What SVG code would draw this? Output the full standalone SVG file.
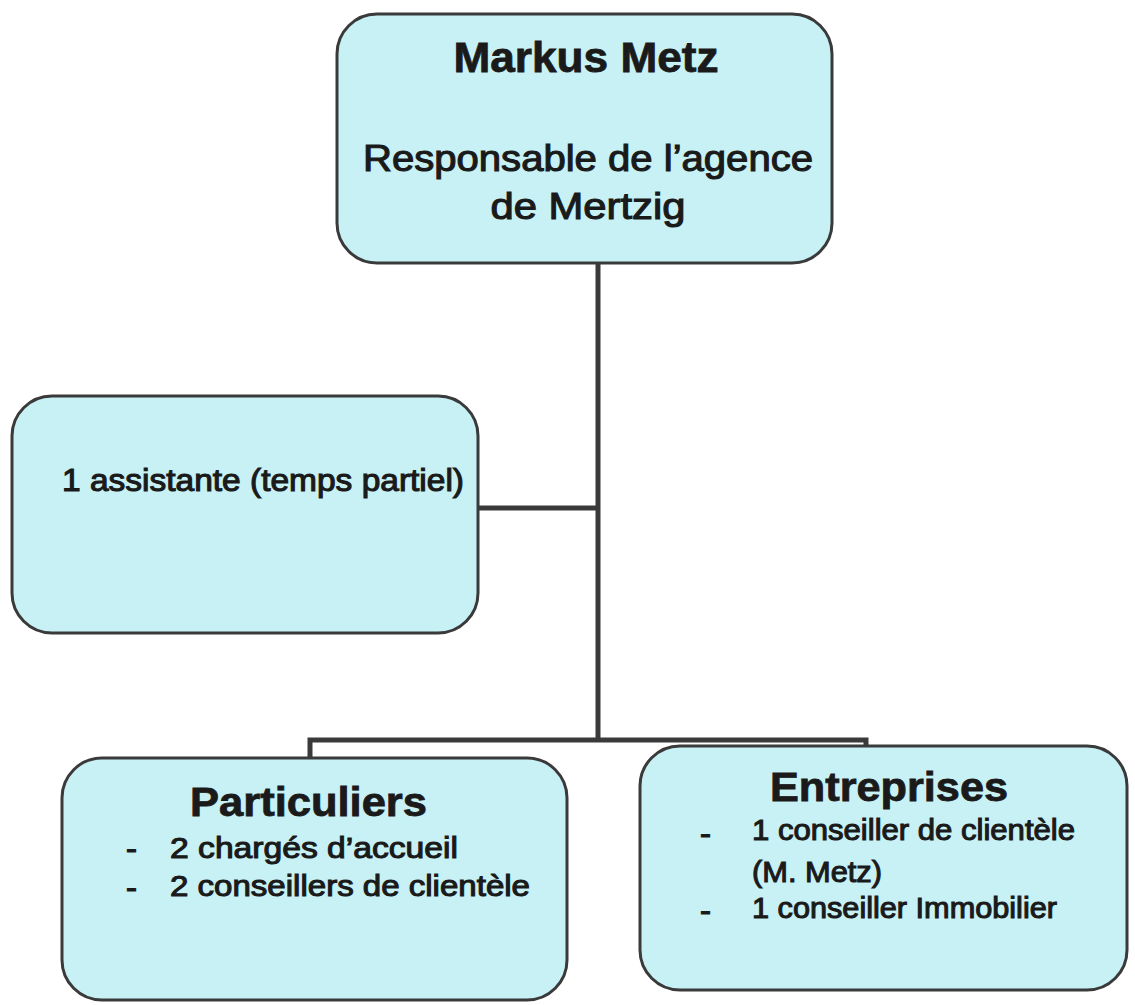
<svg xmlns="http://www.w3.org/2000/svg" width="1135" height="1005" viewBox="0 0 1135 1005">
<style>
.box{fill:#c7f1f5;stroke:#3a3a3a;stroke-width:3}
.conn{fill:none;stroke:#3a3a3a;stroke-width:5;stroke-linejoin:miter}
text{font-family:"Liberation Sans",Arial,sans-serif;fill:#1a1a1a}
.t{font-weight:bold;stroke:#1a1a1a;stroke-width:0.8}
.b{stroke:#1a1a1a;stroke-width:1.1}
</style>
<rect width="1135" height="1005" fill="#ffffff"/>
<g id="connectors">
<path class="conn" d="M598 263 V740"/>
<path class="conn" d="M478 508 H598"/>
<path class="conn" d="M310 760 V740 H866 V746"/>
</g>
<g id="node-markus">
<rect class="box" x="337" y="14" width="495" height="249" rx="40"/>
<text class="t" x="586" y="72" font-size="42" text-anchor="middle" textLength="265" lengthAdjust="spacingAndGlyphs" fill="#3c3c3c" stroke="#3c3c3c">Markus Metz</text>
<text class="b" x="588" y="171" font-size="36" text-anchor="middle" textLength="450" lengthAdjust="spacingAndGlyphs">Responsable de l’agence</text>
<text class="b" x="588" y="219" font-size="36" text-anchor="middle" textLength="195" lengthAdjust="spacingAndGlyphs">de Mertzig</text>
</g>
<g id="node-assistante">
<rect class="box" x="12" y="396" width="466" height="237" rx="40"/>
<text class="b" x="62" y="491" font-size="31" textLength="402" lengthAdjust="spacingAndGlyphs">1 assistante (temps partiel)</text>
</g>
<g id="node-particuliers">
<rect class="box" x="62" y="758" width="505" height="242" rx="40"/>
<text class="t" x="190" y="816" font-size="40" textLength="237" lengthAdjust="spacingAndGlyphs">Particuliers</text>
<text class="b" x="126" y="859" font-size="30" textLength="11" lengthAdjust="spacingAndGlyphs">-</text>
<text class="b" x="170" y="858" font-size="30" textLength="288" lengthAdjust="spacingAndGlyphs">2 chargés d’accueil</text>
<text class="b" x="126" y="898" font-size="30" textLength="11" lengthAdjust="spacingAndGlyphs">-</text>
<text class="b" x="170" y="896" font-size="30" textLength="360" lengthAdjust="spacingAndGlyphs">2 conseillers de clientèle</text>
</g>
<g id="node-entreprises">
<rect class="box" x="640" y="746" width="487" height="244" rx="40"/>
<text class="t" x="770" y="801" font-size="40" textLength="238" lengthAdjust="spacingAndGlyphs">Entreprises</text>
<text class="b" x="700" y="844" font-size="30" textLength="11" lengthAdjust="spacingAndGlyphs">-</text>
<text class="b" x="752" y="840" font-size="30" textLength="323" lengthAdjust="spacingAndGlyphs">1 conseiller de clientèle</text>
<text class="b" x="752" y="882" font-size="30" textLength="130" lengthAdjust="spacingAndGlyphs">(M. Metz)</text>
<text class="b" x="700" y="921" font-size="30" textLength="11" lengthAdjust="spacingAndGlyphs">-</text>
<text class="b" x="752" y="918" font-size="30" textLength="305" lengthAdjust="spacingAndGlyphs">1 conseiller Immobilier</text>
</g>
</svg>
